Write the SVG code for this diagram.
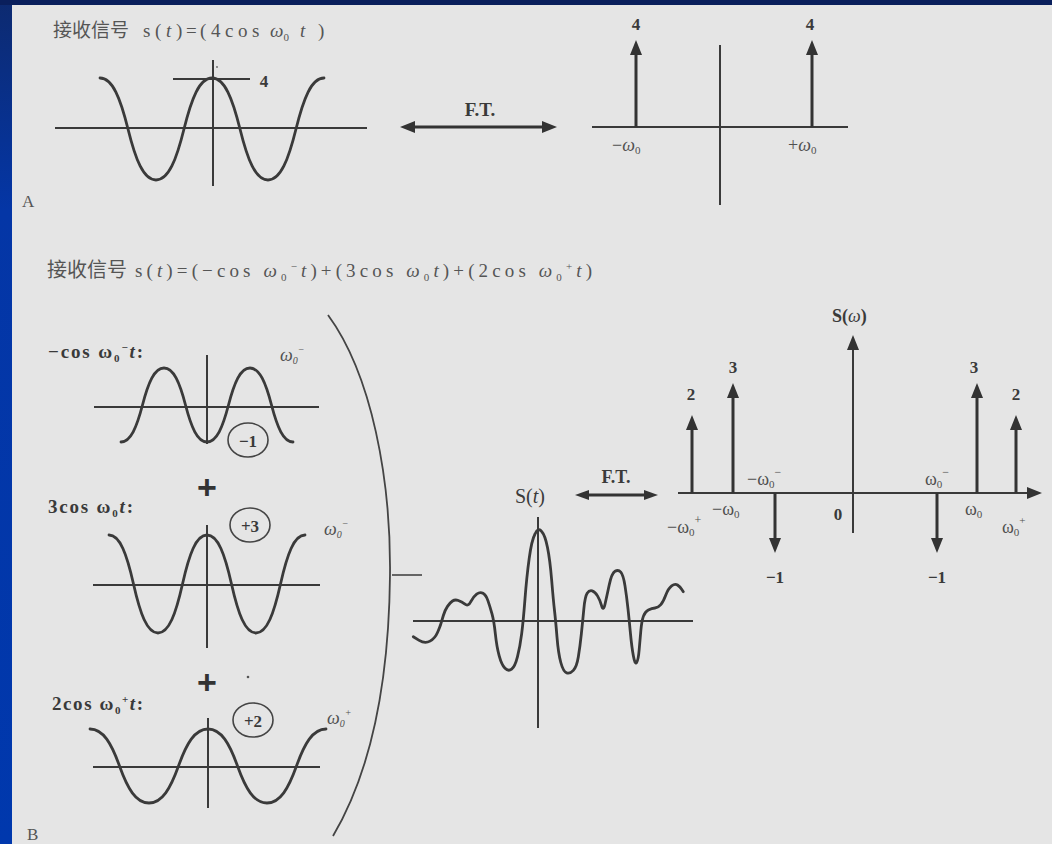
<svg xmlns="http://www.w3.org/2000/svg" width="1052" height="844" viewBox="0 0 1052 844">
<defs>
<linearGradient id="side" x1="0" y1="0" x2="0" y2="1">
<stop offset="0" stop-color="#0d2a70"/>
<stop offset="0.25" stop-color="#0436a6"/>
<stop offset="1" stop-color="#0038ad"/>
</linearGradient>
<marker id="ah" viewBox="0 0 15 12" refX="7" refY="6" markerWidth="15" markerHeight="12" markerUnits="userSpaceOnUse" orient="auto-start-reverse">
<path d="M0,0 L15,6 L0,12 Z" fill="#333"/>
</marker>
<marker id="ahs" viewBox="0 0 14 10" refX="7" refY="5" markerWidth="14" markerHeight="10" markerUnits="userSpaceOnUse" orient="auto-start-reverse">
<path d="M0,0 L14,5 L0,10 Z" fill="#333"/>
</marker>
<style>
.ser{font-family:"Liberation Serif","DejaVu Serif",serif;}
.cjk{font-family:"Noto Sans CJK SC","Noto Sans CJK JP",sans-serif;}
.ttl{font-size:19px;fill:#555;}
.lab{font-size:19px;fill:#3a3a3a;font-weight:bold;}
.num{font-size:17px;fill:#3a3a3a;font-weight:bold;text-anchor:middle;}
.om{font-size:18px;fill:#505050;}
.it{font-style:italic;}
.ax{stroke:#3a3a3a;stroke-width:2;fill:none;}
.wave{stroke:#3a3a3a;stroke-width:2.8;fill:none;stroke-linejoin:round;stroke-linecap:round;}
.imp{stroke:#333;stroke-width:3;fill:none;marker-end:url(#ah);}
.dbl{stroke:#333;stroke-width:3;fill:none;marker-start:url(#ah);marker-end:url(#ah);}
.circ{stroke:#444;stroke-width:1.6;fill:none;}
</style>
</defs>

<rect x="0" y="0" width="1052" height="844" fill="url(#side)"/>
<rect x="0" y="0" width="1052" height="5" fill="#0a1f5c"/>
<rect x="12" y="5" width="1040" height="839" fill="#e5e5e5"/>

<!-- Part A -->
<g id="titleA">
<text class="ser ttl" x="53" y="37"><tspan class="cjk" font-size="19">接收信号</tspan><tspan x="143">s</tspan><tspan x="155">(</tspan><tspan x="166" class="it">t</tspan><tspan x="176">)</tspan><tspan x="186">=</tspan><tspan x="200">(</tspan><tspan x="211" letter-spacing="4.5">4cos</tspan><tspan x="270" class="it">ω</tspan><tspan font-size="11" dy="4">0</tspan><tspan x="300" class="it" dy="-4">t</tspan><tspan x="318">)</tspan></text>
</g>

<g id="waveA">
<line class="ax" x1="55" y1="128" x2="367" y2="128"/>
<line class="ax" x1="213" y1="60" x2="213" y2="186"/>
<line class="ax" x1="173" y1="79" x2="250" y2="79" stroke-width="1.5"/>
<circle cx="217" cy="67" r="0.9" fill="#666"/>
<path class="wave" d="M100,78 C112.6,78 120.44,98.4 128,129 S143.4,180 156,180 S176.44,159.6 184,129 S199.4,78 212,78 S232.44,98.4 240,129 S255.4,180 268,180 S288.44,159.6 296,129 S311.4,78 324,78"/>
<text class="ser num" x="264" y="87" font-size="16">4</text>
</g>

<g id="specA">
<line class="ax" x1="592" y1="127" x2="848" y2="127"/>
<line class="ax" x1="720" y1="45" x2="720" y2="205"/>
<line class="imp" x1="636" y1="127" x2="636" y2="48"/>
<line class="imp" x1="812" y1="127" x2="812" y2="48"/>
<text class="ser num" x="636" y="30">4</text>
<text class="ser num" x="810" y="30">4</text>
<text class="ser om" x="612" y="151">−<tspan class="it">ω</tspan><tspan font-size="11" dy="3">0</tspan></text>
<text class="ser om" x="788" y="151">+<tspan class="it">ω</tspan><tspan font-size="11" dy="3">0</tspan></text>
</g>

<text class="ser" x="22" y="207" font-size="17" fill="#555">A</text>

<!-- Part B -->
<g id="titleB">
<text class="ser ttl" x="47" y="277"><tspan class="cjk" font-size="20">接收信号</tspan></text>
<text class="ser ttl" x="135" y="277" textLength="457" lengthAdjust="spacing">s(<tspan class="it">t</tspan>)=(−cos <tspan class="it">ω</tspan><tspan font-size="11" dy="4">0</tspan><tspan font-size="11" dy="-11">−</tspan><tspan class="it" dy="7">t</tspan>)+(3cos <tspan class="it">ω</tspan><tspan font-size="11" dy="4">0</tspan><tspan class="it" dy="-4">t</tspan>)+(2cos <tspan class="it">ω</tspan><tspan font-size="11" dy="4">0</tspan><tspan font-size="11" dy="-11">+</tspan><tspan class="it" dy="7">t</tspan>)</text>
</g>

<g id="wave1">
<text class="ser lab" x="48" y="358" textLength="95" lengthAdjust="spacing">−cos <tspan>ω</tspan><tspan font-size="11" dy="4">0</tspan><tspan font-size="11" dy="-11">−</tspan><tspan class="it" dy="7">t</tspan>:</text>
<text class="ser om it" x="280" y="361" font-size="15">ω<tspan font-size="10" dy="3">0</tspan><tspan font-size="10" dy="-11">−</tspan></text>
<line class="ax" x1="94" y1="407" x2="319" y2="407"/>
<line class="ax" x1="207" y1="355" x2="207" y2="444"/>
<path class="wave" d="M121,442 C130.68,442 136.7,427.2 142.5,405 S154.32,368 164,368 S179.7,382.8 185.5,405 S197.32,442 207,442 S222.7,427.2 228.5,405 S240.32,368 250,368 S265.7,382.8 271.5,405 S283.32,442 293,442"/>
<ellipse class="circ" cx="248" cy="440" rx="20" ry="17"/>
<text class="ser num" x="248" y="447" font-size="18">−1</text>
</g>

<text id="plus1" x="207" y="499" font-family="Liberation Sans, Arial, sans-serif" font-size="34" font-weight="bold" fill="#333" text-anchor="middle">+</text>

<g id="wave2">
<text class="ser lab" x="48" y="513" textLength="85" lengthAdjust="spacing">3cos <tspan>ω</tspan><tspan font-size="11" dy="4">0</tspan><tspan class="it" dy="-4">t</tspan>:</text>
<text class="ser om it" x="324" y="535" font-size="15">ω<tspan font-size="10" dy="3">0</tspan><tspan font-size="10" dy="-11">−</tspan></text>
<line class="ax" x1="93" y1="585" x2="320" y2="585"/>
<line class="ax" x1="207" y1="525" x2="207" y2="648"/>
<path class="wave" d="M109,535 C120.03,535 126.88,554.6 133.5,584 S146.97,633 158,633 S175.88,613.4 182.5,584 S195.97,535 207,535 S224.88,554.6 231.5,584 S244.97,633 256,633 S273.88,613.4 280.5,584 S293.97,535 305,535"/>
<ellipse class="circ" cx="250" cy="525" rx="20" ry="17"/>
<text class="ser num" x="250" y="532" font-size="18">+3</text>
</g>

<text id="plus2" x="207" y="694" font-family="Liberation Sans, Arial, sans-serif" font-size="34" font-weight="bold" fill="#333" text-anchor="middle">+</text>
<circle cx="248" cy="677" r="1.3" fill="#555"/>

<g id="wave3">
<text class="ser lab" x="52" y="710" textLength="91" lengthAdjust="spacing">2cos <tspan>ω</tspan><tspan font-size="11" dy="4">0</tspan><tspan font-size="11" dy="-11">+</tspan><tspan class="it" dy="7">t</tspan>:</text>
<text class="ser om it" x="327" y="724" font-size="15">ω<tspan font-size="10" dy="3">0</tspan><tspan font-size="10" dy="-11">+</tspan></text>
<line class="ax" x1="93" y1="767" x2="320" y2="767"/>
<line class="ax" x1="208" y1="718" x2="208" y2="808"/>
<path class="wave" d="M90,729 C103.28,729 111.53,743.8 119.5,766 S135.72,803 149,803 S170.53,788.2 178.5,766 S194.72,729 208,729 S229.53,743.8 237.5,766 S253.72,803 267,803 S288.53,788.2 296.5,766 S312.72,729 326,729"/>
<ellipse class="circ" cx="253" cy="720" rx="20" ry="17"/>
<text class="ser num" x="253" y="727" font-size="18">+2</text>
</g>

<text class="ser" x="27" y="840" font-size="17" fill="#555">B</text>

<g id="bracket">
<path d="M328,315 C372,375 391,480 390,575 C389,680 372,770 333,836" fill="none" stroke="#444" stroke-width="1.8"/>
</g>

<g id="sumwave">
<text class="ser" x="515" y="503" font-size="20" fill="#3a3a3a">S(<tspan class="it">t</tspan>)</text>
<line class="ax" x1="413" y1="621" x2="693" y2="621"/>
<line class="ax" x1="538" y1="517" x2="538" y2="728"/>
<path class="wave" d="M413.3,636.7 L419.15,640.35 Q425,644 430,641.15 Q435,638.3 437.5,632.5 Q440,626.7 440.85,623.85 Q441.7,621 443.35,615.5 Q445,610 447.5,606.35 Q450,602.7 452.5,601 Q455,599.3 458.35,600.5 Q461.7,601.7 465,604.2 Q468.3,606.7 470.8,601.7 Q473.3,596.7 476.65,594.2 Q480,591.7 483,593.35 Q486,595 488,600.85 Q490,606.7 492,613.85 Q494,621 495.35,633.85 Q496.7,646.7 499.2,655.85 Q501.7,665 505,668.35 Q508.3,671.7 511.65,669.2 Q515,666.7 517.5,656.7 Q520,646.7 521.65,633.85 Q523.3,621 525,598.85 Q526.7,576.7 529.2,558.35 Q531.7,540 535,534 Q538.3,527 541.65,531.5 Q545,535 547.5,547.5 Q550,560 551.65,580 Q553.3,600 554.5,610.5 Q555.7,621 557,637.15 Q558.3,653.3 560.8,662.5 Q563.3,671.7 566.65,672.85 Q570,674 573.35,670.35 Q576.7,666.7 578.35,656.7 Q580,646.7 581.35,633.85 Q582.7,621 583.85,608.85 Q585,596.7 587.15,593.35 Q589.3,590 592.15,590.85 Q595,591.7 597.5,595.85 Q600,600 601.65,605.85 Q603.3,611.7 605,604.2 Q606.7,596.7 609.2,585 Q611.7,573.3 615,571.3 Q618.3,569.3 620.8,572.15 Q623.3,575 625,585.85 Q626.7,596.7 628,608.85 Q629.3,621 630.5,633.85 Q631.7,646.7 633.35,655.85 Q635,665 636.65,662.5 Q638.3,660 639.15,650 Q640,640 640.85,630.5 Q641.7,621 643.35,616.35 Q645,611.7 648.35,610 Q651.7,608.3 655,608 Q658.3,607.7 660.8,604.7 Q663.3,601.7 665.8,595 Q668.3,588.3 671.65,585.8 Q675,583.3 677.5,585 Q680,586.7 681.65,589.2 L683.3,591.7"/>
</g>

<g id="specB">
<line class="ax" x1="678" y1="493" x2="1034" y2="493" stroke-width="2.2" marker-end="url(#ah)"/>
<line class="ax" x1="853" y1="533" x2="853" y2="343" stroke-width="2.2" marker-end="url(#ah)"/>
<text class="ser" x="832" y="322" font-size="18" fill="#3a3a3a" font-weight="bold">S(<tspan class="it" font-weight="normal">ω</tspan>)</text>
<line class="imp" x1="692" y1="493" x2="692" y2="423"/>
<line class="imp" x1="733" y1="493" x2="733" y2="391"/>
<line class="imp" x1="775" y1="493" x2="775" y2="545"/>
<line class="imp" x1="937" y1="493" x2="937" y2="545"/>
<line class="imp" x1="977" y1="493" x2="977" y2="391"/>
<line class="imp" x1="1016" y1="493" x2="1016" y2="423"/>
<text class="ser num" x="691" y="400">2</text>
<text class="ser num" x="733" y="373">3</text>
<text class="ser num" x="974" y="373">3</text>
<text class="ser num" x="1016" y="400">2</text>
<text class="ser num" x="775" y="583">−1</text>
<text class="ser num" x="937" y="583">−1</text>
<text class="ser num" x="838" y="520">0</text>
<text class="ser om" x="747" y="485">−ω<tspan font-size="11" dy="3">0</tspan><tspan font-size="12" dy="-12">−</tspan></text>
<text class="ser om" x="712" y="515">−ω<tspan font-size="11" dy="3">0</tspan></text>
<text class="ser om" x="667" y="533">−ω<tspan font-size="11" dy="3">0</tspan><tspan font-size="12" dy="-12">+</tspan></text>
<text class="ser om" x="925" y="485">ω<tspan font-size="11" dy="3">0</tspan><tspan font-size="12" dy="-12">−</tspan></text>
<text class="ser om" x="965" y="515">ω<tspan font-size="11" dy="3">0</tspan></text>
<text class="ser om" x="1002" y="533">ω<tspan font-size="11" dy="3">0</tspan><tspan font-size="11" dy="-12">+</tspan></text>
</g>

<g id="connectors">
<line class="dbl" x1="408" y1="127" x2="549" y2="127"/>
<text class="ser" x="480" y="116" font-size="19" font-weight="bold" fill="#3a3a3a" text-anchor="middle">F.T.</text>
<line x1="582" y1="495" x2="651" y2="495" stroke="#333" stroke-width="3" marker-start="url(#ahs)" marker-end="url(#ahs)"/>
<text class="ser" x="616" y="483" font-size="18" font-weight="bold" fill="#3a3a3a" text-anchor="middle">F.T.</text>
<line x1="392" y1="575" x2="422" y2="575" stroke="#444" stroke-width="1.6"/>
</g>
</svg>
